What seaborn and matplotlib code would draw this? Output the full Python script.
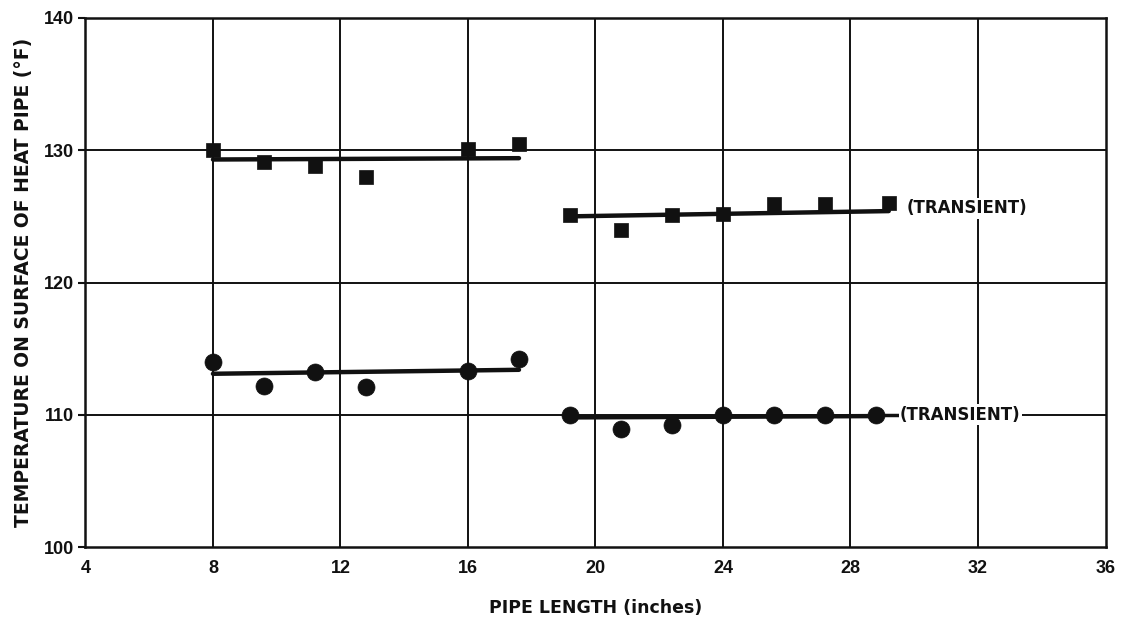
import matplotlib
matplotlib.use("Agg")
import matplotlib.pyplot as plt
import seaborn as sns
import pandas as pd

# ---- data ----
sq_left_x = [8, 9.6, 11.2, 12.8, 16, 17.6]
sq_left_y = [130.0, 129.1, 128.8, 128.0, 130.1, 130.5]
sq_right_x = [19.2, 20.8, 22.4, 24.0, 25.6, 27.2, 29.2]
sq_right_y = [125.1, 124.0, 125.1, 125.2, 125.9, 125.9, 126.0]

ci_left_x = [8, 9.6, 11.2, 12.8, 16, 17.6]
ci_left_y = [114.0, 112.2, 113.2, 112.1, 113.3, 114.2]
ci_right_x = [19.2, 20.8, 22.4, 24.0, 25.6, 27.2, 28.8]
ci_right_y = [110.0, 108.9, 109.2, 110.0, 110.0, 110.0, 110.0]

# fitted lines (endpoints)
fit_sq_left_x = [8, 17.6]
fit_sq_left_y = [129.3, 129.4]
fit_sq_right_x = [19.2, 29.2]
fit_sq_right_y = [125.0, 125.4]
fit_ci_left_x = [8, 17.6]
fit_ci_left_y = [113.1, 113.4]
fit_ci_right_x = [19.2, 28.8]
fit_ci_right_y = [109.8, 109.9]

x_ticks = [4, 8, 12, 16, 20, 24, 28, 32, 36]
y_ticks = [100, 110, 120, 130, 140]
x_label = "PIPE LENGTH (inches)"
y_label = "TEMPERATURE ON SURFACE OF HEAT PIPE (°F)"
annot_text = "(TRANSIENT)"

# ---- style ----
sns.set_style("white")
plt.rcParams['font.family'] = ['Liberation Sans Narrow', 'Liberation Sans', 'DejaVu Sans']
plt.rcParams['font.weight'] = 'bold'
label_font = ['DejaVu Sans']

fig = plt.figure(figsize=(11.26, 6.2), dpi=100)
ax = fig.add_axes([0.0759, 0.1177, 0.9059, 0.8533])

ink = "#111111"

# grid lines
for xv in x_ticks[1:-1]:
    ax.axvline(xv, color=ink, lw=1.4, zorder=1)
for yv in y_ticks[1:-1]:
    ax.axhline(yv, color=ink, lw=1.4, zorder=1)

# fit lines
for fx, fy in [(fit_sq_left_x, fit_sq_left_y), (fit_sq_right_x, fit_sq_right_y),
               (fit_ci_left_x, fit_ci_left_y), (fit_ci_right_x, fit_ci_right_y)]:
    sns.lineplot(x=fx, y=fy, ax=ax, color=ink, lw=3.2, zorder=3)

# markers
for mx, my in [(sq_left_x, sq_left_y), (sq_right_x, sq_right_y)]:
    sns.scatterplot(x=mx, y=my, ax=ax, marker='s', s=110, color=ink,
                    edgecolor=ink, linewidth=0.5, zorder=4)
for mx, my in [(ci_left_x, ci_left_y), (ci_right_x, ci_right_y)]:
    sns.scatterplot(x=mx, y=my, ax=ax, marker='o', s=150, color=ink,
                    edgecolor=ink, linewidth=0.5, zorder=4)

# annotations
ax.text(29.75, 125.6, annot_text, fontsize=12, fontweight='bold', color=ink,
        va='center', ha='left', zorder=5, family=label_font,
        bbox=dict(facecolor='white', edgecolor='none', pad=1.0))
ax.text(29.55, 110.0, annot_text, fontsize=12, fontweight='bold', color=ink,
        va='center', ha='left', zorder=5, family=label_font,
        bbox=dict(facecolor='white', edgecolor='none', pad=1.0))
sns.lineplot(x=[28.8, 29.55], y=[110.0, 110.0], ax=ax, color=ink, lw=2.5, zorder=3)

ax.set_xlim(4, 36)
ax.set_ylim(100, 140)
ax.set_xticks(x_ticks)
ax.set_yticks(y_ticks)
ax.set_xticklabels([str(v) for v in x_ticks], fontsize=13, fontweight='bold')
ax.set_yticklabels([str(v) for v in y_ticks], fontsize=13, fontweight='bold')
ax.tick_params(axis='x', length=0, pad=9, colors=ink)
ax.tick_params(axis='y', length=5, width=1.5, direction='out', pad=3, colors=ink, left=True)

for sp in ax.spines.values():
    sp.set_visible(True)
    sp.set_color(ink)
    sp.set_linewidth(1.8)

ax.set_xlabel(x_label, fontsize=12.5, fontweight='bold', labelpad=16, color=ink,
              family=label_font)
ax.set_ylabel(y_label, fontsize=13.5, fontweight='bold', labelpad=8, color=ink,
              family=label_font)

fig.savefig("out.png", dpi=100, facecolor='white')
